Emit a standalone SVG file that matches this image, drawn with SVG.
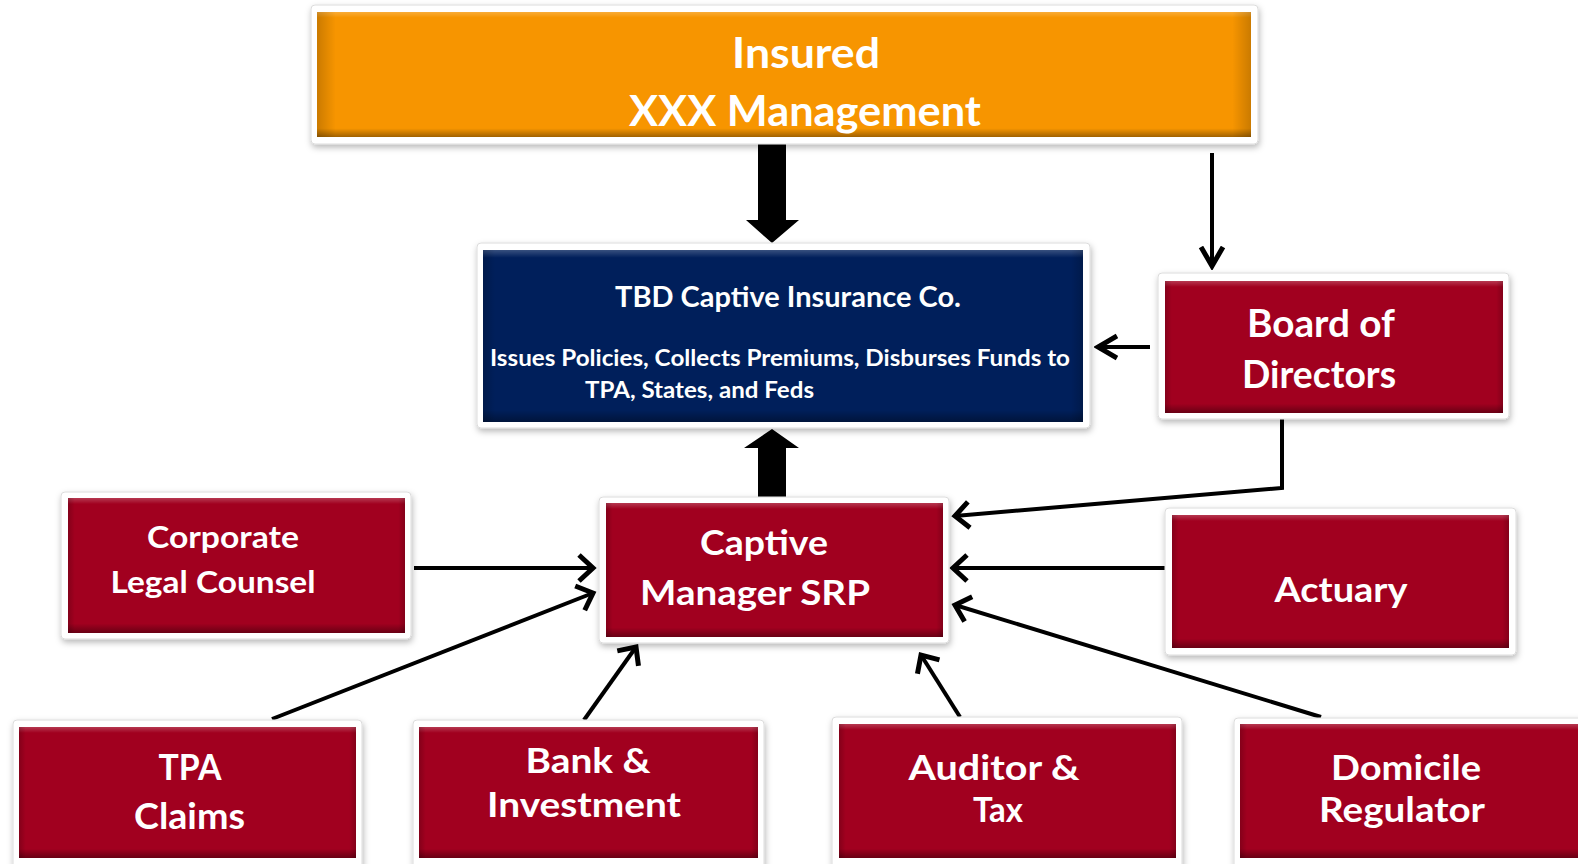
<svg xmlns="http://www.w3.org/2000/svg" width="1578" height="864" viewBox="0 0 1578 864">
  <defs>
    <filter id="shadow" x="-5%" y="-10%" width="110%" height="125%">
      <feDropShadow dx="1" dy="3" stdDeviation="3" flood-color="#000" flood-opacity="0.28"/>
    </filter>
    <linearGradient id="bevelV" x1="0" y1="0" x2="0" y2="1">
      <stop offset="0" stop-color="#fff" stop-opacity="0.22"/>
      <stop offset="0.045" stop-color="#fff" stop-opacity="0"/>
      <stop offset="0.93" stop-color="#000" stop-opacity="0"/>
      <stop offset="1" stop-color="#000" stop-opacity="0.35"/>
    </linearGradient>
    <linearGradient id="bevelH" x1="0" y1="0" x2="1" y2="0">
      <stop offset="0" stop-color="#000" stop-opacity="0.18"/>
      <stop offset="0.02" stop-color="#000" stop-opacity="0"/>
      <stop offset="0.98" stop-color="#000" stop-opacity="0"/>
      <stop offset="1" stop-color="#000" stop-opacity="0.18"/>
    </linearGradient>
    <marker id="chev" viewBox="-20 -16 24 32" markerWidth="24" markerHeight="32" refX="0" refY="0" orient="auto" markerUnits="userSpaceOnUse">
      <path d="M-14,-13 L0,0 L-14,13" fill="none" stroke="#000" stroke-width="5"/>
    </marker>
    <marker id="chevS" viewBox="-20 -16 24 32" markerWidth="24" markerHeight="32" refX="0" refY="0" orient="auto" markerUnits="userSpaceOnUse">
      <path d="M-19,-11 L0,0 L-19,11" fill="none" stroke="#000" stroke-width="5"/>
    </marker>
    <style>
      .frame { fill: #fff; stroke: #dcdcdc; stroke-width: 1; filter: url(#shadow); }
      .red { fill: #a1001f; }
      .orange { fill: #f79500; }
      .navy { fill: #001f5b; }
      .bv { fill: url(#bevelV); }
      .bh { fill: url(#bevelH); }
      .lbl { font-family: Lato, "Open Sans", sans-serif; font-weight: bold; fill: #fff; text-anchor: middle; }
      .conn { fill: none; stroke: #000; stroke-width: 4; marker-end: url(#chev); }
      .fat { fill: #000; }
    </style>
  </defs>

  <rect width="1578" height="864" fill="#fff"/>

  <!-- connectors -->
  <g id="connectors">
    <polygon class="fat" points="758,144 786,144 786,220 799,220 772,243 746,220 758,220"/>
    <polygon class="fat" points="772,429 799,448 786,448 786,497 758,497 758,448 744,448"/>
    <line class="conn" x1="1212" y1="153" x2="1212" y2="266" style="marker-end:url(#chevS)"/>
    <line class="conn" x1="1150" y1="347" x2="1098" y2="347" style="marker-end:url(#chevS)"/>
    <polyline class="conn" points="1282,417 1282,488 955,516"/>
    <line class="conn" x1="1165" y1="568" x2="953" y2="568"/>
    <line class="conn" x1="1321" y1="717" x2="955" y2="605"/>
    <line class="conn" x1="960" y1="717" x2="921" y2="655"/>
    <line class="conn" x1="414" y1="568" x2="593" y2="568"/>
    <line class="conn" x1="272" y1="719" x2="593" y2="593"/>
    <line class="conn" x1="584" y1="720" x2="636" y2="647"/>
  </g>

  <!-- Insured / XXX Management -->
  <g id="insured">
    <rect class="frame" x="311" y="5" width="947" height="139" rx="4"/>
    <rect class="orange" x="317" y="12" width="934" height="125"/>
    <rect class="bv" x="317" y="12" width="934" height="125"/>
    <rect class="bh" x="317" y="12" width="934" height="125"/>
    <text class="lbl" x="806" y="68" font-size="42" textLength="148" lengthAdjust="spacingAndGlyphs">Insured</text>
    <text class="lbl" x="805" y="126" font-size="42" textLength="352" lengthAdjust="spacingAndGlyphs">XXX Management</text>
  </g>

  <!-- TBD Captive Insurance Co. -->
  <g id="captive-insurer">
    <rect class="frame" x="477" y="243" width="613" height="185" rx="4"/>
    <rect class="navy" x="483" y="250" width="600" height="172"/>
    <rect class="bv" x="483" y="250" width="600" height="172"/>
    <rect class="bh" x="483" y="250" width="600" height="172"/>
    <text class="lbl" x="788" y="307" font-size="28" textLength="346" lengthAdjust="spacingAndGlyphs">TBD Captive Insurance Co.</text>
    <text class="lbl" x="780" y="366" font-size="22" textLength="580" lengthAdjust="spacingAndGlyphs">Issues Policies, Collects Premiums, Disburses Funds to</text>
    <text class="lbl" x="699.5" y="398" font-size="22" textLength="229" lengthAdjust="spacingAndGlyphs">TPA, States, and Feds</text>
  </g>

  <!-- Board of Directors -->
  <g id="board">
    <rect class="frame" x="1158" y="273" width="351" height="146" rx="4"/>
    <rect class="red" x="1165" y="281" width="338" height="132"/>
    <rect class="bv" x="1165" y="281" width="338" height="132"/>
    <rect class="bh" x="1165" y="281" width="338" height="132"/>
    <text class="lbl" x="1321" y="337" font-size="38" textLength="148" lengthAdjust="spacingAndGlyphs">Board of</text>
    <text class="lbl" x="1319" y="388" font-size="38" textLength="154" lengthAdjust="spacingAndGlyphs">Directors</text>
  </g>

  <!-- Captive Manager SRP -->
  <g id="manager">
    <rect class="frame" x="599" y="497" width="350" height="146" rx="4"/>
    <rect class="red" x="606" y="503" width="337" height="134"/>
    <rect class="bv" x="606" y="503" width="337" height="134"/>
    <rect class="bh" x="606" y="503" width="337" height="134"/>
    <text class="lbl" x="764" y="555" font-size="35" textLength="128" lengthAdjust="spacingAndGlyphs">Captive</text>
    <text class="lbl" x="755" y="605" font-size="35" textLength="230" lengthAdjust="spacingAndGlyphs">Manager SRP</text>
  </g>

  <!-- Corporate Legal Counsel -->
  <g id="legal">
    <rect class="frame" x="61" y="492" width="350" height="147" rx="4"/>
    <rect class="red" x="68" y="498" width="337" height="135"/>
    <rect class="bv" x="68" y="498" width="337" height="135"/>
    <rect class="bh" x="68" y="498" width="337" height="135"/>
    <text class="lbl" x="223" y="548" font-size="30" textLength="152" lengthAdjust="spacingAndGlyphs">Corporate</text>
    <text class="lbl" x="213" y="593" font-size="30" textLength="205" lengthAdjust="spacingAndGlyphs">Legal Counsel</text>
  </g>

  <!-- Actuary -->
  <g id="actuary">
    <rect class="frame" x="1165" y="508" width="351" height="147" rx="4"/>
    <rect class="red" x="1172" y="515" width="337" height="133"/>
    <rect class="bv" x="1172" y="515" width="337" height="133"/>
    <rect class="bh" x="1172" y="515" width="337" height="133"/>
    <text class="lbl" x="1341" y="602" font-size="35" textLength="133" lengthAdjust="spacingAndGlyphs">Actuary</text>
  </g>

  <!-- TPA Claims -->
  <g id="tpa">
    <rect class="frame" x="13" y="720" width="349" height="150" rx="4"/>
    <rect class="red" x="19" y="727" width="337" height="131"/>
    <rect class="bv" x="19" y="727" width="337" height="131"/>
    <rect class="bh" x="19" y="727" width="337" height="131"/>
    <text class="lbl" x="190" y="780" font-size="37" textLength="63" lengthAdjust="spacingAndGlyphs">TPA</text>
    <text class="lbl" x="189.5" y="829" font-size="37" textLength="111" lengthAdjust="spacingAndGlyphs">Claims</text>
  </g>

  <!-- Bank & Investment -->
  <g id="bank">
    <rect class="frame" x="413" y="720" width="351" height="150" rx="4"/>
    <rect class="red" x="419" y="727" width="339" height="131"/>
    <rect class="bv" x="419" y="727" width="339" height="131"/>
    <rect class="bh" x="419" y="727" width="339" height="131"/>
    <text class="lbl" x="588" y="773" font-size="35" textLength="125" lengthAdjust="spacingAndGlyphs">Bank &amp;</text>
    <text class="lbl" x="584" y="817" font-size="35" textLength="194" lengthAdjust="spacingAndGlyphs">Investment</text>
  </g>

  <!-- Auditor & Tax -->
  <g id="auditor">
    <rect class="frame" x="832" y="717" width="350" height="153" rx="4"/>
    <rect class="red" x="839" y="724" width="337" height="134"/>
    <rect class="bv" x="839" y="724" width="337" height="134"/>
    <rect class="bh" x="839" y="724" width="337" height="134"/>
    <text class="lbl" x="994" y="780" font-size="35" textLength="171" lengthAdjust="spacingAndGlyphs">Auditor &amp;</text>
    <text class="lbl" x="998" y="822" font-size="35" textLength="50" lengthAdjust="spacingAndGlyphs">Tax</text>
  </g>

  <!-- Domicile Regulator -->
  <g id="regulator">
    <rect class="frame" x="1234" y="718" width="360" height="152" rx="4"/>
    <rect class="red" x="1240" y="724" width="348" height="134"/>
    <rect class="bv" x="1240" y="724" width="348" height="134"/>
    <rect class="bh" x="1240" y="724" width="348" height="134"/>
    <text class="lbl" x="1406" y="780" font-size="35" textLength="150" lengthAdjust="spacingAndGlyphs">Domicile</text>
    <text class="lbl" x="1402" y="822" font-size="35" textLength="166" lengthAdjust="spacingAndGlyphs">Regulator</text>
  </g>
</svg>
